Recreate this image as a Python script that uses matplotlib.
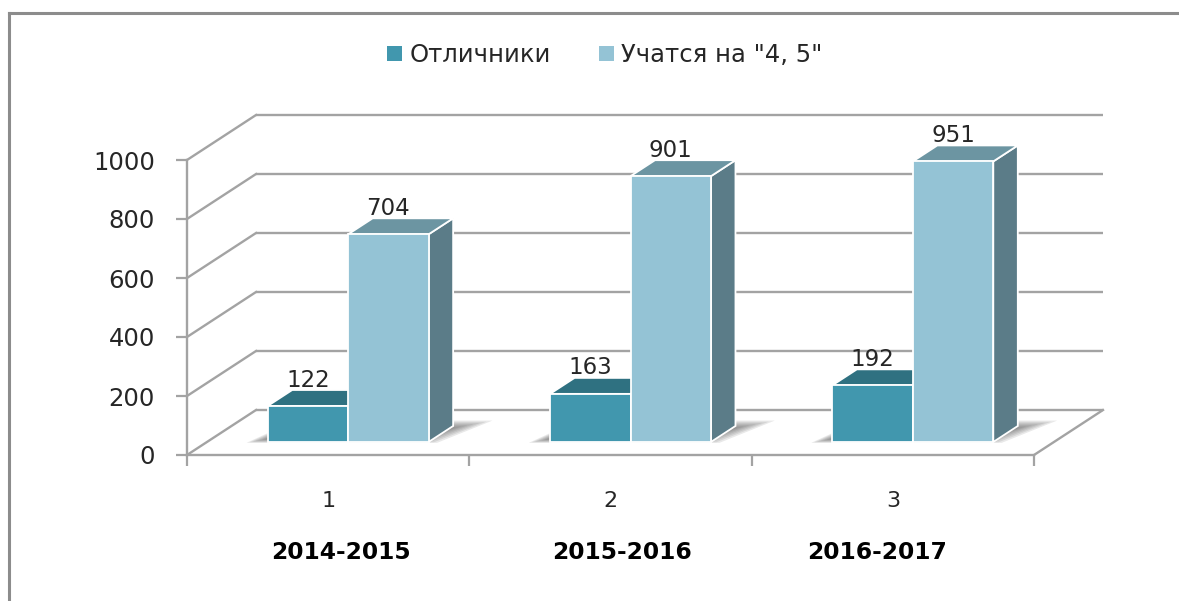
import matplotlib
matplotlib.use("Agg")
import matplotlib.pyplot as plt
from matplotlib.patches import Polygon, Patch
from matplotlib.lines import Line2D

# ---------------- data ----------------
categories = ["1", "2", "3"]
years = ["2014-2015", "2015-2016", "2016-2017"]
series_names = ["Отличники", 'Учатся на "4, 5"']
excellent = [122, 163, 192]
good = [704, 901, 951]
yticks = [0, 200, 400, 600, 800, 1000]

# ---------------- style ----------------
TEAL_FRONT = "#4197AE"
TEAL_TOP = "#2F7181"
TEAL_SIDE = "#2A6674"
LIGHT_FRONT = "#94C3D5"
LIGHT_TOP = "#6C95A2"
LIGHT_SIDE = "#5B7C88"
GRID = "#A3A3A3"
TXT = "#262626"

W, H = 1179, 601
fig = plt.figure(figsize=(W / 100, H / 100), dpi=100)
fig.patch.set_facecolor("white")

# front plane of the 3D box
ax = fig.add_axes([187 / W, (H - 455) / H, 847 / W, 295 / H])
ax.set_xlim(0, 3)
ax.set_ylim(0, 1000)
ax.set_facecolor("none")

DX = 0.2444   # depth offset in category units
DY = 152.5    # depth offset in value units
F0, F1 = 0.29, 0.645   # bar depth range (fraction of box depth)
BW = 0.285

# walls / gridlines
for v in yticks:
    ax.plot([DX, 3 + DX], [v + DY, v + DY], color=GRID, lw=1.7, zorder=1,
            clip_on=False, solid_capstyle="butt")
    ax.plot([0, DX], [v, v + DY], color=GRID, lw=1.7, zorder=1, clip_on=False)
# floor right edge
ax.plot([3, 3 + DX], [0, DY], color=GRID, lw=1.7, zorder=1, clip_on=False)

def bar3d(xl, w, v, front, top, side, z):
    fl, fr = xl + F0 * DX, xl + w + F0 * DX
    bl, br = xl + F1 * DX, xl + w + F1 * DX
    y0, y1 = F0 * DY, F1 * DY
    ax.add_patch(Polygon([(fr, y0), (br, y1), (br, v + y1), (fr, v + y0)],
                         closed=True, fc=side, ec="white", lw=1.3, zorder=z,
                         clip_on=False))
    ax.add_patch(Polygon([(fl, v + y0), (fr, v + y0), (br, v + y1), (bl, v + y1)],
                         closed=True, fc=top, ec="white", lw=1.3, zorder=z,
                         clip_on=False))
    ax.add_patch(Polygon([(fl, y0), (fr, y0), (fr, v + y0), (fl, v + y0)],
                         closed=True, fc=front, ec="white", lw=1.3, zorder=z + 0.1,
                         clip_on=False))

for i in range(len(categories)):
    c = i + 0.5
    gl, gr = c - BW, c + BW
    # soft floor shadow (layered for a blurred look)
    for k in range(7):
        s = 0.011 * k
        yb = F0 * DY - 3 + 2.0 * k
        yt = (F1 + 0.12) * DY - 4.0 * k
        ax.add_patch(Polygon([(gl + F0 * DX - 0.075 + s, yb),
                              (gr + F0 * DX + 0.03 - s, yb),
                              (gr + (F1 + 0.12) * DX + 0.11 - 2 * s, yt),
                              (gl + (F1 + 0.12) * DX - 0.02, yt)],
                             closed=True, fc="#4a4a4a", ec="none", alpha=0.12,
                             zorder=2, clip_on=False))
    bar3d(gl, BW, excellent[i], TEAL_FRONT, TEAL_TOP, TEAL_SIDE, 3 + i)
    bar3d(c, BW, good[i], LIGHT_FRONT, LIGHT_TOP, LIGHT_SIDE, 3.5 + i)
    for xl, v in ((gl, excellent[i]), (c, good[i])):
        ax.annotate(str(v), xy=(xl + BW / 2 + F0 * DX, v + F1 * DY),
                    xytext=(0, 2.5), textcoords="offset points",
                    ha="center", va="baseline", fontsize=16.5, color=TXT,
                    zorder=10, annotation_clip=False)

# axes
for s in ("top", "right"):
    ax.spines[s].set_visible(False)
for s in ("left", "bottom"):
    ax.spines[s].set_color(GRID)
    ax.spines[s].set_linewidth(1.7)
    ax.spines[s].set_zorder(1.5)
ax.set_yticks(yticks)
ax.set_yticklabels([str(t) for t in yticks])
ax.set_xticks([0, 1, 2, 3])
ax.set_xticklabels([])
ax.set_xticks([0.5, 1.5, 2.5], categories, minor=True)
ax.tick_params(axis="y", direction="out", length=8, width=1.6, color=GRID,
               labelsize=17.5, labelcolor=TXT, pad=15)
ax.tick_params(axis="x", which="major", direction="out", length=8, width=1.6,
               color=GRID)
ax.tick_params(axis="x", which="minor", length=0, labelsize=16, labelcolor=TXT,
               pad=26)

# year labels
year_x = [0.545, 1.541, 2.444]
for x, lab in zip(year_x, years):
    ax.text(x, -332, lab, ha="center", va="center", fontsize=16.8,
            fontweight="bold", color="black", clip_on=False)

# legend
handles = [Patch(fc=TEAL_FRONT, ec="none"), Patch(fc=LIGHT_FRONT, ec="none")]
fig.legend(handles, series_names, loc="center", bbox_to_anchor=(0.513, 0.908),
           ncol=2, frameon=False, fontsize=17.5, handlelength=0.6,
           handleheight=0.6, handletextpad=0.3, columnspacing=2.0,
           labelcolor=TXT)

# chart-area frame (left and top visible)
fig.add_artist(Line2D([9 / W, 9 / W], [0, 1 - 13 / H], color="#8C8C8C", lw=2.2))
fig.add_artist(Line2D([9 / W, 1], [1 - 13 / H, 1 - 13 / H], color="#8C8C8C", lw=2.2))

fig.savefig("out.png", dpi=100)
